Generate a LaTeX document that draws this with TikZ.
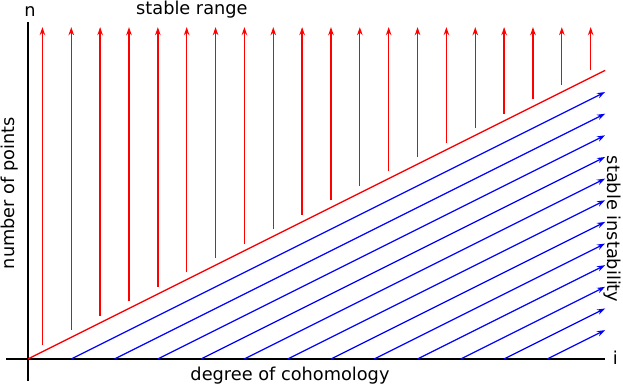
\documentclass[tikz,border=0pt]{standalone}
\usepackage{fontspec}
\setmainfont{DejaVu Sans}
\usetikzlibrary{arrows.meta}

\begin{document}
\begin{tikzpicture}[scale=1.0, font=\fontsize{17.5}{21}\selectfont,
    axis/.style={line width=2pt},
    rangearrow/.style={red, line width=1.3pt, -{Stealth[length=8pt,width=5.5pt]}},
    unstablearrow/.style={blue, line width=1.2pt, -{Stealth[length=8pt,width=5.5pt]}}]
\useasboundingbox (-0.97,-0.97) rectangle (20.62,12.44);

% axes
\draw[axis] (-0.75,0) -- (20,0);
\draw[axis] (0,-0.75) -- (0,11.68);
\node (ilabel) at (20.35,0.03) {i};
\node (nlabel) at (0.07,12.03) {n};

% stable range
\foreach \x in {0.5,1.5,...,19.5} {
    \draw[rangearrow] (\x,{\x/2+0.25}) -- (\x,11.5);
}
\draw[red, line width=1.3pt] (0,0) -- (20,10);

% unstable part
\foreach \x in {1.5,3,...,18} {
    \draw[unstablearrow] (\x,0) -- (20,{(20-\x)/2});
}

% labels
\node (rangelabel) at (5.68,12.1) {stable range};
\node (xlabel) at (9.08,-0.59) {degree of cohomology};
\node[rotate=90] (ylabel) at (-0.62,5.75) {number of points};
\node[rotate=-90] (instlabel) at (20.24,4.5) {stable instability};

\end{tikzpicture}
\end{document}
